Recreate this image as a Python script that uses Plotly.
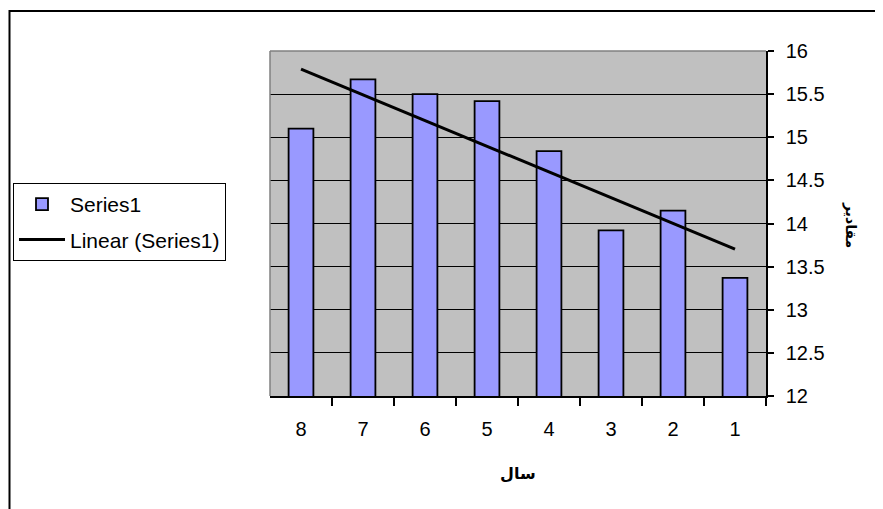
import numpy as np
import plotly.graph_objects as go

categories = ["1", "2", "3", "4", "5", "6", "7", "8"]
values = [13.37, 14.15, 13.92, 14.84, 15.42, 15.5, 15.67, 15.1]
y_ticks = [12, 12.5, 13, 13.5, 14, 14.5, 15, 15.5, 16]
series_name = "Series1"
trend_name = "Linear (Series1)"
x_title = "سال"
y_title = "مقادیر"

# Linear trendline (least squares over category index)
idx = np.arange(1, len(values) + 1)
slope, intercept = np.polyfit(idx, values, 1)
trend = [slope * i + intercept for i in idx]

FONT = "Liberation Sans, Arial, DejaVu Sans, sans-serif"

OFF = 8  # page body margin
W, H = 883 - OFF, 509 - OFF
L = 270 - OFF
R = 883 - 766
T = 51 - OFF
B = 509 - 396
pw, ph = W - L - R, H - T - B


def px_x(p):
    return (p - OFF - L) / pw


def px_y(p):
    return (H - B - (p - OFF)) / ph


fig = go.Figure()
fig.add_trace(go.Bar(
    x=categories, y=values, name=series_name, legendgroup="a",
    marker=dict(color="#9999FF", line=dict(color="black", width=1.8)),
    width=0.4,
))
fig.add_trace(go.Scatter(
    x=categories, y=trend, name=trend_name, mode="lines", legendgroup="b",
    line=dict(color="black", width=3),
))

fig.update_layout(
    width=W, height=H,
    margin=dict(l=L, r=R, t=T, b=B, pad=0, autoexpand=False),
    paper_bgcolor="white",
    plot_bgcolor="#C0C0C0",
    font=dict(family=FONT, size=20, color="black"),
    showlegend=True,
    legend=dict(
        x=px_x(13), y=px_y(183), xanchor="left", yanchor="top",
        bordercolor="black", borderwidth=1, bgcolor="white",
        font=dict(size=21, family=FONT),
        itemwidth=46, traceorder="grouped", tracegroupgap=5,
    ),
    xaxis=dict(
        type="category", categoryorder="array", categoryarray=categories,
        autorange="reversed", tickangle=0, automargin=False,
        showgrid=False, showline=True, linecolor="black", linewidth=1.5,
        ticks="outside", tickson="boundaries", ticklen=8, tickcolor="black",
        tickwidth=1.5, ticklabelstandoff=14,
        tickfont=dict(size=20, family=FONT),
        zeroline=False,
    ),
    yaxis=dict(
        side="right", range=[12, 16], tickvals=y_ticks, automargin=False,
        ticktext=[f"{v:g}" for v in y_ticks],
        showgrid=True, gridcolor="black", gridwidth=1,
        showline=True, linecolor="black", linewidth=1.5,
        ticks="outside", ticklen=6, tickcolor="black", tickwidth=1.5,
        ticklabelstandoff=8,
        tickfont=dict(size=20, family=FONT),
        zeroline=False,
    ),
    shapes=[
        dict(type="line", xref="paper", yref="paper", x0=0, x1=0, y0=0, y1=1,
             line=dict(color="#808080", width=1.5)),
        dict(type="line", xref="paper", yref="paper", x0=0, x1=1, y0=1, y1=1,
             line=dict(color="#808080", width=1.5)),
        dict(type="rect", xref="paper", yref="paper",
             x0=px_x(9.5), x1=px_x(900), y0=px_y(530), y1=px_y(11),
             line=dict(color="black", width=2)),
    ],
    annotations=[
        dict(text=f"<b>{x_title}</b>", xref="paper", yref="paper",
             x=px_x(518), y=px_y(473), showarrow=False,
             xanchor="center", yanchor="middle",
             font=dict(size=16, family="DejaVu Sans, Noto Sans, sans-serif")),
        dict(text=f"<b>{y_title}</b>", xref="paper", yref="paper",
             x=px_x(851), y=px_y(225), showarrow=False, textangle=90,
             xanchor="center", yanchor="middle",
             font=dict(size=14, family="DejaVu Sans, Noto Sans, sans-serif")),
    ],
)

fig.write_html("out.html")
